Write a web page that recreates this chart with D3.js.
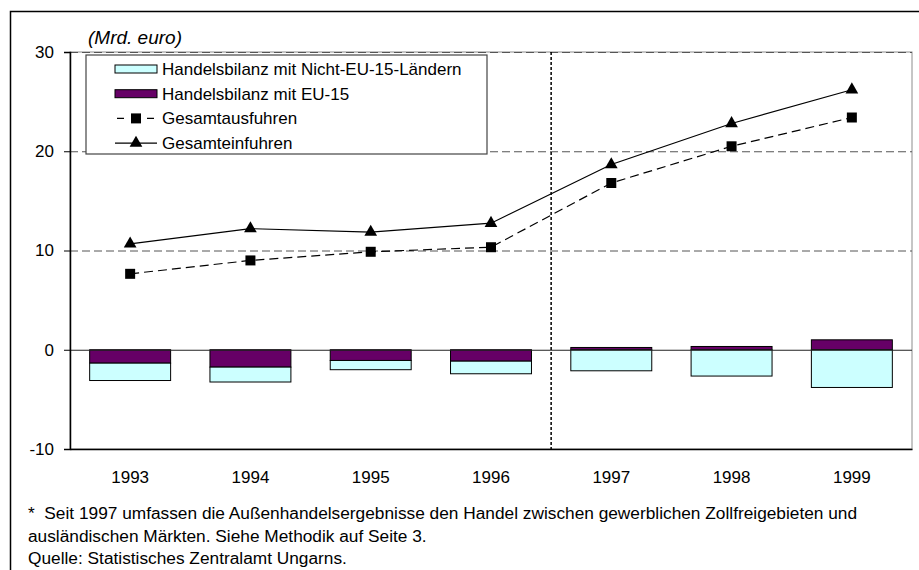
<!DOCTYPE html>
<html>
<head>
<meta charset="utf-8">
<script src="https://cdn.jsdelivr.net/npm/d3@7"></script>
<style>
    body { margin: 0; background: #fff; }
    #chart-area { width: 919px; height: 570px; }
    text { font-family: "Liberation Sans", Arial, sans-serif; fill: #000; }
</style>
</head>
<body>
<div id="chart-area"></div>
<script>

// data (Mrd. euro)
let years = ["1993", "1994", "1995", "1996", "1997", "1998", "1999"];
let euBalance = [-1.35, -1.75, -1.08, -1.15, 0.23, 0.33, 1.0];
let nonEuBalance = [-1.75, -1.5, -0.93, -1.27, -2.12, -2.65, -3.8];
let totalExports = [7.65, 9.0, 9.87, 10.33, 16.8, 20.5, 23.4];
let totalImports = [10.67, 12.2, 11.85, 12.75, 18.66, 22.8, 26.2];
let yTicks = [-10, 0, 10, 20, 30];
let legendLabels = ["Handelsbilanz mit Nicht-EU-15-Ländern", "Handelsbilanz mit EU-15", "Gesamtausfuhren", "Gesamteinfuhren"];
let footnotes = [
    "*  Seit 1997 umfassen die Außenhandelsergebnisse den Handel zwischen gewerblichen Zollfreigebieten und",
    "ausländischen Märkten. Siehe Methodik auf Seite 3.",
    "Quelle: Statistisches Zentralamt Ungarns."
];


class TradeChart {

    constructor(parentElement) {
        this.parentElement = parentElement;
        this.initVis();
    }

    initVis() {
        let vis = this;

        vis.margin = {top: 52, right: 7, bottom: 121, left: 70};
        vis.width = 919 - vis.margin.left - vis.margin.right;
        vis.height = 570 - vis.margin.top - vis.margin.bottom;

        vis.root = d3.select("#" + vis.parentElement).append("svg")
            .attr("width", 919)
            .attr("height", 570);

        // outer frame (only top and left edges are inside the picture)
        vis.root.append("path")
            .attr("d", "M10.5,570 V11.5 H919")
            .attr("fill", "none")
            .attr("stroke", "#000")
            .attr("stroke-width", 1.5);

        vis.svg = vis.root.append("g")
            .attr("transform", "translate(" + vis.margin.left + "," + vis.margin.top + ")");

        vis.x = d3.scaleBand()
            .domain(years)
            .range([0, vis.width])
            .paddingInner(0.327)
            .paddingOuter(0.1635);

        vis.y = d3.scaleLinear()
            .domain([-10, 30])
            .range([vis.height, 0]);

        // plot area border
        vis.svg.append("rect")
            .attr("width", vis.width)
            .attr("height", vis.height)
            .attr("fill", "none")
            .attr("stroke", "#8c8c8c")
            .attr("stroke-width", 1);

        vis.wrangleData();
    }

    wrangleData() {
        let vis = this;

        vis.tableData = years.map((yr, i) => ({
            year: yr,
            eu: euBalance[i],
            nonEu: nonEuBalance[i],
            exp: totalExports[i],
            imp: totalImports[i]
        }));

        vis.stacked = d3.stack()
            .keys(["eu", "nonEu"])
            .offset(d3.stackOffsetDiverging)(vis.tableData);

        vis.updateVis();
    }

    updateVis() {
        let vis = this;
        let colors = {eu: "#660066", nonEu: "#ccffff"};

        // dashed gridlines
        vis.svg.selectAll("line.grid")
            .data(yTicks.filter(d => d > 0))
            .enter().append("line")
            .attr("class", "grid")
            .attr("x1", 0)
            .attr("x2", vis.width)
            .attr("y1", d => vis.y(d) + 0.5)
            .attr("y2", d => vis.y(d) + 0.5)
            .attr("stroke", "#555")
            .attr("stroke-dasharray", "8,4");

        // bars
        vis.svg.selectAll("g.layer")
            .data(vis.stacked)
            .enter().append("g")
            .attr("class", "layer")
            .attr("fill", d => colors[d.key])
            .selectAll("rect")
            .data(d => d)
            .enter().append("rect")
            .attr("x", d => vis.x(d.data.year))
            .attr("width", vis.x.bandwidth())
            .attr("y", d => vis.y(Math.max(d[0], d[1])))
            .attr("height", d => Math.abs(vis.y(d[0]) - vis.y(d[1])))
            .attr("stroke", "#000")
            .attr("stroke-width", 1);

        // zero line
        vis.svg.append("line")
            .attr("x1", 0)
            .attr("x2", vis.width)
            .attr("y1", vis.y(0) + 0.5)
            .attr("y2", vis.y(0) + 0.5)
            .attr("stroke", "#222")
            .attr("stroke-width", 1.2);

        // dotted divider between 1996 and 1997
        let divX = vis.x("1997") - vis.x.step() * vis.x.paddingInner() / 2;
        vis.svg.append("line")
            .attr("x1", divX)
            .attr("x2", divX)
            .attr("y1", 0)
            .attr("y2", vis.height + 3)
            .attr("stroke", "#000")
            .attr("stroke-width", 1.5)
            .attr("stroke-dasharray", "3,2");

        let cx = d => vis.x(d.year) + vis.x.bandwidth() / 2;

        // lines
        vis.svg.append("path")
            .datum(vis.tableData)
            .attr("fill", "none")
            .attr("stroke", "#000")
            .attr("stroke-width", 1.2)
            .attr("stroke-dasharray", "9,5")
            .attr("d", d3.line().x(cx).y(d => vis.y(d.exp)));

        vis.svg.append("path")
            .datum(vis.tableData)
            .attr("fill", "none")
            .attr("stroke", "#000")
            .attr("stroke-width", 1.2)
            .attr("d", d3.line().x(cx).y(d => vis.y(d.imp)));

        let square = d3.symbol().type(d3.symbolSquare).size(100);
        let triangle = d3.symbol().type(d3.symbolTriangle).size(70);

        vis.svg.selectAll("path.sq")
            .data(vis.tableData)
            .enter().append("path")
            .attr("class", "sq")
            .attr("d", square)
            .attr("transform", d => "translate(" + cx(d) + "," + vis.y(d.exp) + ")");

        vis.svg.selectAll("path.tri")
            .data(vis.tableData)
            .enter().append("path")
            .attr("class", "tri")
            .attr("d", triangle)
            .attr("transform", d => "translate(" + cx(d) + "," + vis.y(d.imp) + ")");

        // axes
        vis.yAxis = d3.axisLeft(vis.y)
            .tickValues(yTicks)
            .tickFormat(d => String(d))
            .tickSize(6)
            .tickPadding(10);

        let yg = vis.svg.append("g")
            .attr("class", "y-axis axis")
            .call(vis.yAxis);
        yg.select(".domain").attr("stroke-width", 1.5);
        yg.selectAll("text").style("font-size", "17px");

        vis.xAxis = d3.axisBottom(vis.x)
            .tickSize(0)
            .tickPadding(22);

        let xg = vis.svg.append("g")
            .attr("class", "x-axis axis")
            .attr("transform", "translate(0," + vis.height + ")")
            .call(vis.xAxis);
        xg.select(".domain").attr("stroke-width", 1.5);
        xg.selectAll("text").style("font-size", "17px");

        // unit label
        vis.root.append("text")
            .attr("x", 88)
            .attr("y", 44)
            .style("font-size", "19px")
            .style("font-style", "italic")
            .text("(Mrd. euro)");

        // legend
        let lg = vis.root.append("g").attr("transform", "translate(86,55)");
        lg.append("rect")
            .attr("width", 401)
            .attr("height", 99)
            .attr("fill", "#fff")
            .attr("stroke", "#444")
            .attr("stroke-width", 1.2);

        let rows = lg.selectAll("g.item")
            .data(legendLabels)
            .enter().append("g")
            .attr("class", "item")
            .attr("transform", (d, i) => "translate(0," + (14 + i * 24.7) + ")");

        rows.append("text")
            .attr("x", 76)
            .attr("dy", "0.35em")
            .style("font-size", "17px")
            .text(d => d);

        rows.filter((d, i) => i < 2).append("rect")
            .attr("x", 29)
            .attr("y", -4)
            .attr("width", 42)
            .attr("height", 8)
            .attr("fill", (d, i) => i === 0 ? colors.nonEu : colors.eu)
            .attr("stroke", "#000");

        rows.filter((d, i) => i >= 2).append("line")
            .attr("x1", 29)
            .attr("x2", 71)
            .attr("stroke", "#000")
            .attr("stroke-width", 1.2)
            .attr("stroke-dasharray", (d, i) => i === 0 ? "7,8" : null)
            .attr("stroke-dashoffset", (d, i) => i === 0 ? -2 : null);

        rows.filter((d, i) => i === 2).append("path")
            .attr("d", square)
            .attr("transform", "translate(50,0)");
        rows.filter((d, i) => i === 3).append("path")
            .attr("d", triangle)
            .attr("transform", "translate(50,0)");

        // footnote
        vis.root.selectAll("text.note")
            .data(footnotes)
            .enter().append("text")
            .attr("class", "note")
            .attr("x", 28)
            .attr("y", (d, i) => 519 + i * 22.5)
            .style("font-size", "17.3px")
            .style("white-space", "pre")
            .text(d => d);
    }
}

let chart = new TradeChart("chart-area");

</script>
</body>
</html>
